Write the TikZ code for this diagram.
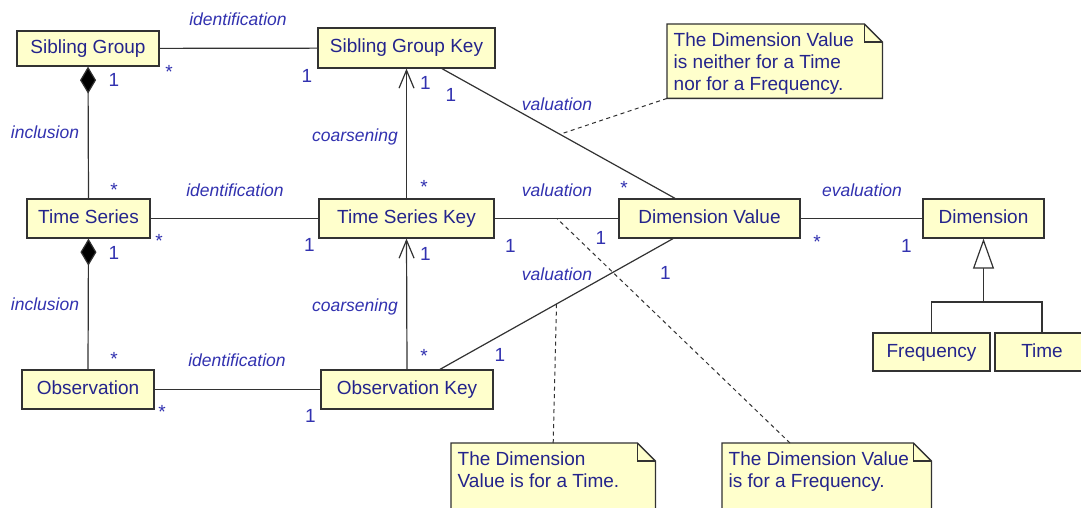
\documentclass[tikz,border=0pt]{standalone}
\usepackage{fontspec}
\setmainfont{Liberation Sans}
\usetikzlibrary{arrows.meta,backgrounds,calc}

\definecolor{paper}{RGB}{255,255,204}
\definecolor{boxink}{RGB}{36,36,140}
\definecolor{roleink}{RGB}{50,50,176}
\definecolor{edgeink}{RGB}{50,50,50}

\tikzset{
  cls/.style={draw=edgeink, line width=1.3pt, fill=paper, text=boxink,
    font=\fontsize{19}{22}\selectfont, inner sep=0pt,
    text height=14pt, text depth=4pt, anchor=center},
  role/.style={text=roleink, font=\fontsize{17.5}{20}\selectfont\itshape,
    inner sep=0pt, anchor=base},
  mult/.style={text=roleink, font=\fontsize{19}{22}\selectfont, inner sep=0pt},
  assoc/.style={draw=edgeink, line width=1.2pt},
  anchorline/.style={draw=edgeink, line width=1pt, dash pattern=on 4pt off 3.5pt},
  memo/.style={text=boxink, font=\fontsize{19}{22}\selectfont,
    inner xsep=6.5pt, inner ysep=0pt, anchor=north west},
}

% note outline with a folded top-right corner, drawn behind the note text
\newcommand{\dogear}[1]{%
  \begin{scope}[on background layer]
    \filldraw[fill=paper, draw=edgeink, line width=1.3pt]
      (#1.south west) -- (#1.north west) -- ([xshift=-18pt]#1.north east)
      -- ([yshift=-18pt]#1.north east) -- (#1.south east) -- cycle;
    \draw[edgeink, line width=1.1pt]
      ([xshift=-18pt]#1.north east) |- ([yshift=-18pt]#1.north east);
  \end{scope}}

\begin{document}
\begin{tikzpicture}[x=1pt, y=-1pt]
  \begin{scope}[on background layer]
    \fill[white] (0,0) rectangle (1081,508);
  \end{scope}
  \useasboundingbox (0,0) rectangle (1081,508);
  \clip (0,0) rectangle (1081,508);

  % classes
  \node[cls, minimum width=142pt, minimum height=35pt] (sg)   at (88,48.5)    {Sibling Group};
  \node[cls, minimum width=177pt, minimum height=40pt] (sgk)  at (406.5,48)   {Sibling Group Key};
  \node[cls, minimum width=123pt, minimum height=39pt] (ts)   at (88.5,218.5) {Time Series};
  \node[cls, minimum width=175pt, minimum height=39pt] (tsk)  at (406.5,218.5){Time Series Key};
  \node[cls, minimum width=181pt, minimum height=39pt] (dv)   at (709.5,218.5){Dimension Value};
  \node[cls, minimum width=121pt, minimum height=39pt] (dim)  at (983.5,218.5){Dimension};
  \node[cls, minimum width=132pt, minimum height=39pt] (obs)  at (88,389.5)   {Observation};
  \node[cls, minimum width=172pt, minimum height=39pt] (ok)   at (407,389.5)  {Observation Key};
  \node[cls, minimum width=117pt, minimum height=38pt] (freq) at (931.5,352)  {Frequency};
  \node[cls, minimum width=94pt,  minimum height=38pt] (time) at (1042,352)   {Time};

  % notes
  \node[memo] (n1) at (667,24) {\parbox[c][74pt][t]{202pt}{\raggedright
      \rule{0pt}{22pt}The Dimension Value\\is neither for a Time\\nor for a Frequency.}};
  \dogear{n1}
  \node[memo] (n2) at (451,443) {\parbox[c][80pt][t]{191pt}{\raggedright
      \rule{0pt}{22pt}The Dimension\\Value is for a Time.}};
  \dogear{n2}
  \node[memo] (n3) at (722,443) {\parbox[c][80pt][t]{196pt}{\raggedright
      \rule{0pt}{22pt}The Dimension Value\\is for a Frequency.}};
  \dogear{n3}

  % identification
  \draw[assoc] (sg) -- (sgk);
  \draw[assoc] (ts) -- (tsk);
  \draw[assoc] (obs) -- (ok);

  % inclusion (composition)
  \draw[assoc, {Diamond[length=27pt, width=16pt, fill=black]}-] (sg.south) -- (ts.north);
  \draw[assoc, {Diamond[length=27pt, width=16pt, fill=black]}-] (ts.south) -- (obs.north);

  % coarsening
  \draw[assoc, -{Straight Barb[length=18pt, width=15pt]}] (tsk.north) -- (sgk.south);
  \draw[assoc, -{Straight Barb[length=18pt, width=15pt]}] (ok.north) -- (tsk.south);

  % valuation
  \draw[assoc] ([xshift=35.5pt]sgk.south) -- coordinate[pos=.506] (v1) ([xshift=-34.5pt]dv.north);
  \draw[assoc] (tsk) -- coordinate[pos=.504] (v2) (dv);
  \draw[assoc] ([xshift=33pt]ok.north) -- coordinate[pos=.5] (v3) ([xshift=-36.5pt]dv.south);

  % evaluation
  \draw[assoc] (dv) -- (dim);

  % generalization
  \coordinate (gen) at (983.5,302);
  \draw[assoc, -{Triangle[open, length=30pt, width=21pt, fill=white]}] (gen) -- (dim.south);
  \draw[assoc] (freq.north) |- (gen) -| (time.north);

  % note anchors
  \draw[anchorline] (n1.south west) -- (v1);
  \draw[anchorline] (n2.north) -- (v3);
  \draw[anchorline] ([xshift=68pt]n3.north west) -- (v2);

  % association names
  \node[role] (r1)  at (238,26)    {identification};
  \node[role] (r2)  at (235,196.5) {identification};
  \node[role] (r3)  at (237,366.5) {identification};
  \node[role] (r4)  at (45,139)    {inclusion};
  \node[role] (r5)  at (45,310)    {inclusion};
  \node[role] (r6)  at (355,141.5) {coarsening};
  \node[role] (r7)  at (355,311.5) {coarsening};
  \node[role] (r8)  at (557,111)   {valuation};
  \node[role] (r9)  at (557,196.5) {valuation};
  \node[role] (r10) at (557,280.5) {valuation};
  \node[role] (r11) at (862,196.5) {evaluation};

  % multiplicities
  \node[mult] (m1)  at (169,72)    {*};
  \node[mult] (m2)  at (307,75.5)  {1};
  \node[mult] (m3)  at (114,79.5)  {1};
  \node[mult] (m4)  at (114,190)   {*};
  \node[mult] (m5)  at (159,241)   {*};
  \node[mult] (m6)  at (309.5,245) {1};
  \node[mult] (m7)  at (114,252.5) {1};
  \node[mult] (m8)  at (114,359)   {*};
  \node[mult] (m9)  at (162,412)   {*};
  \node[mult] (m10) at (310.5,416) {1};
  \node[mult] (m11) at (425.5,83)  {1};
  \node[mult] (m12) at (451,94.5)  {1};
  \node[mult] (m13) at (424,187)   {*};
  \node[mult] (m14) at (624,188)   {*};
  \node[mult] (m15) at (425.5,254) {1};
  \node[mult] (m16) at (510.5,246) {1};
  \node[mult] (m17) at (601,237.5) {1};
  \node[mult] (m18) at (665.5,273) {1};
  \node[mult] (m19) at (424,356)   {*};
  \node[mult] (m20) at (500,355)   {1};
  \node[mult] (m21) at (817,242)   {*};
  \node[mult] (m22) at (906.5,245.5) {1};
\end{tikzpicture}
\end{document}
